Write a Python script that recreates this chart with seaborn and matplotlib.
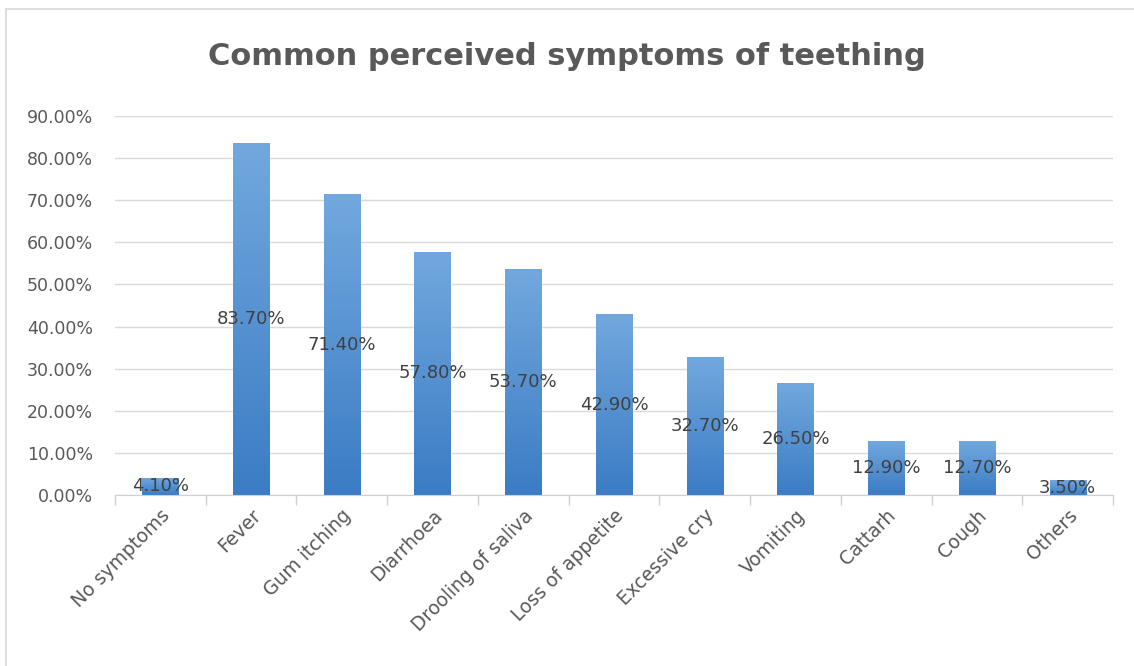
import matplotlib
matplotlib.use("Agg")
import matplotlib.pyplot as plt
import numpy as np
import pandas as pd
import seaborn as sns
from matplotlib.colors import LinearSegmentedColormap
from matplotlib.lines import Line2D
from matplotlib.ticker import FuncFormatter, FixedLocator

symptoms = ["No symptoms", "Fever", "Gum itching", "Diarrhoea", "Drooling of saliva",
            "Loss of appetite", "Excessive cry", "Vomiting", "Cattarh", "Cough", "Others"]
percent = [4.10, 83.70, 71.40, 57.80, 53.70, 42.90, 32.70, 26.50, 12.90, 12.70, 3.50]
yticks = [0, 10, 20, 30, 40, 50, 60, 70, 80, 90]
title = "Common perceived symptoms of teething"

df = pd.DataFrame({"symptom": symptoms, "pct": percent})

sns.set_style("white")
plt.rcParams["font.family"] = ["DejaVu Sans"]

fig = plt.figure(figsize=(11.34, 6.66), dpi=100)
ax = fig.add_axes([0.1014, 0.2568, 0.8801, 0.569])

sns.barplot(data=df, x="symptom", y="pct", color="#5b9bd5", width=0.4,
            saturation=1, ax=ax, zorder=2)

# excel-like vertical gradient on each bar
grad = LinearSegmentedColormap.from_list("g", ["#3b7cc4", "#72a8de"])
img = np.linspace(0, 1, 256).reshape(-1, 1)
for p in ax.patches:
    x0, y0, w, h = p.get_x(), p.get_y(), p.get_width(), p.get_height()
    im = ax.imshow(img, cmap=grad, aspect="auto", origin="lower",
                   extent=[x0, x0 + w, y0, y0 + h], zorder=3)
    im.set_clip_path(p)
    # labels sit in the middle of the bar
    ax.text(x0 + w / 2, h / 2, f"{h:.2f}%", ha="center", va="center",
            fontsize=13, color="#404040", zorder=4)

ax.set_xlim(-0.5, len(symptoms) - 0.5)
ax.set_ylim(0, 90)
ax.yaxis.set_major_locator(FixedLocator(yticks))
ax.yaxis.set_major_formatter(FuncFormatter(lambda v, _: f"{v:.2f}%"))
ax.grid(axis="y", color="#d9d9d9", linewidth=1, zorder=0)
ax.set_axisbelow(True)

for s in ["top", "right", "left"]:
    ax.spines[s].set_visible(False)
ax.spines["bottom"].set_color("#d0d0d0")
ax.spines["bottom"].set_zorder(5)

ax.set_xlabel("")
ax.set_ylabel("")
ax.tick_params(axis="y", length=0, labelsize=12.5, labelcolor="#595959", pad=16)
ax.tick_params(axis="x", which="major", length=0, labelsize=13.5,
               labelcolor="#595959", pad=8)
ax.set_xticks(np.arange(-0.5, len(symptoms)), minor=True)
ax.tick_params(axis="x", which="minor", bottom=True, length=7, width=1,
               color="#d0d0d0", direction="out")
plt.setp(ax.get_xticklabels(), rotation=45, ha="right", rotation_mode="anchor")

fig.text(0.5, 0.915, title, ha="center", va="center", fontsize=22,
         fontweight="bold", color="#595959")

# thin chart-area border (left and top edges visible)
fig.add_artist(Line2D([6 / 1134, 6 / 1134], [0, 1 - 9 / 666], color="#d9d9d9",
                      linewidth=1.2, transform=fig.transFigure))
fig.add_artist(Line2D([6 / 1134, 1], [1 - 9 / 666, 1 - 9 / 666], color="#d9d9d9",
                      linewidth=1.2, transform=fig.transFigure))

fig.savefig("out.png", dpi=100, facecolor="white")
